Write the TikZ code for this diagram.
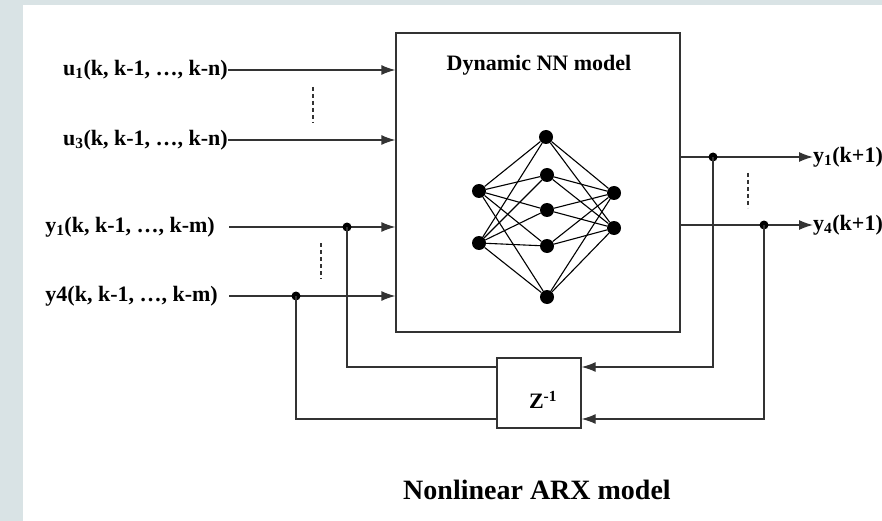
\documentclass[tikz,border=0pt]{standalone}
\usepackage{fontspec}
\setmainfont{Liberation Serif}
\usetikzlibrary{arrows.meta}
\usetikzlibrary{positioning}
\definecolor{bgray}{rgb}{0.85, 0.89, 0.9}
\definecolor{mgray}{rgb}{0.2, 0.2, 0.2}
\tikzset{circ/.style = {fill, circle, inner sep = 0, minimum size = 9pt}}
\tikzset{neuron/.style = {fill, circle, inner sep = 0, minimum size = 14pt}}
\tikzset{lab/.style = {font = \bfseries\fontsize{22}{24}\selectfont, inner sep = 0}}
\tikzset{box/.style = {draw = mgray, line width = 1.3pt, inner sep = 0}}
\tikzset{wire/.style = {draw = mgray, line width = 1.3pt}}
\tikzset{sig/.style = {wire, -{Latex[length = 14pt, width = 10pt]}}}
\tikzset{gap/.style = {draw = mgray, line width = 1.1pt, dash pattern = on 4pt off 3pt}}

\begin{document}
\begin{tikzpicture}[x = 1pt, y = -1pt]
       \fill [bgray] (0, 0) rectangle (882, 521);
       \fill [white] (23, 5) rectangle (882, 521);
       \useasboundingbox (0, 0) rectangle (882, 521);

       \node [box, minimum width = 284pt, minimum height = 299pt] (nn) at (538, 182.5) {};
       \node [lab] (nnlab) at (539, 65) {Dynamic NN model};
       \node [box, minimum width = 84pt, minimum height = 70pt] (delay) at (539, 393) {};
       \node [lab] (zlab) at (543, 400) {Z\textsuperscript{-1}};

       % inputs
       \node [lab, anchor = east] (u1) at (228, 70) {u\textsubscript{1}(k, k-1, …, k-n)};
       \node [lab, anchor = east] (u3) at (228, 140) {u\textsubscript{3}(k, k-1, …, k-n)};
       \node [lab, anchor = east] (y1) at (215, 227) {y\textsubscript{1}(k, k-1, …, k-m)};
       \node [lab, anchor = east] (y4) at (218, 296) {y4(k, k-1, …, k-m)};
       \coordinate (y1start) at (229, 227);
       \coordinate (y4start) at (229, 296);
       \draw [sig] (u1.east) -- (u1.east -| nn.west);
       \draw [sig] (u3.east) -- (u3.east -| nn.west);
       \draw [sig] (y1start) -- (y1start -| nn.west);
       \draw [sig] (y4start) -- (y4start -| nn.west);
       \node [circ] (j1) at (347, 227) {};
       \node [circ] (j4) at (296, 296) {};

       % outputs
       \node [lab, anchor = west] (o1) at (813, 157) {y\textsubscript{1}(k+1)};
       \node [lab, anchor = west] (o4) at (813, 225) {y\textsubscript{4}(k+1)};
       \draw [sig] (o1.west -| nn.east) -- (o1.west);
       \draw [sig] (o4.west -| nn.east) -- (o4.west);
       \node [circ] (k1) at (713, 157) {};
       \node [circ] (k4) at (764, 225) {};

       % feedback through the delay
       \coordinate (zin1) at ([yshift = 26pt] delay.east);
       \coordinate (zin4) at ([yshift = -26pt] delay.east);
       \coordinate (zout1) at ([yshift = 26pt] delay.west);
       \coordinate (zout4) at ([yshift = -26pt] delay.west);
       \draw [sig] (k1.center) |- (zin1);
       \draw [sig] (k4.center) |- (zin4);
       \draw [wire] (zout1) -| (j1.center);
       \draw [wire] (zout4) -| (j4.center);

       \draw [gap] (313, 87) -- (313, 123);
       \draw [gap] (321, 243) -- (321, 279);
       \draw [gap] (748, 173) -- (748, 208);

       % network
       \foreach \n/\x/\y in {l1/479/191, l2/479/243, m0/546/137, m1/547/175, m2/547/210,
                             m3/547/246, m4/547/297, r1/614/193, r2/614/228}
              \node [neuron] (\n) at (\x, \y) {};
       \foreach \a in {l1, l2, r1, r2}
              \foreach \b in {0, ..., 4}
                     \draw [line width = 1.1pt] (\a) -- (m\b);

       \node [font = \bfseries\fontsize{28}{30}\selectfont] (title) at (537, 490) {Nonlinear ARX model};
    \end{tikzpicture}
\end{document}
